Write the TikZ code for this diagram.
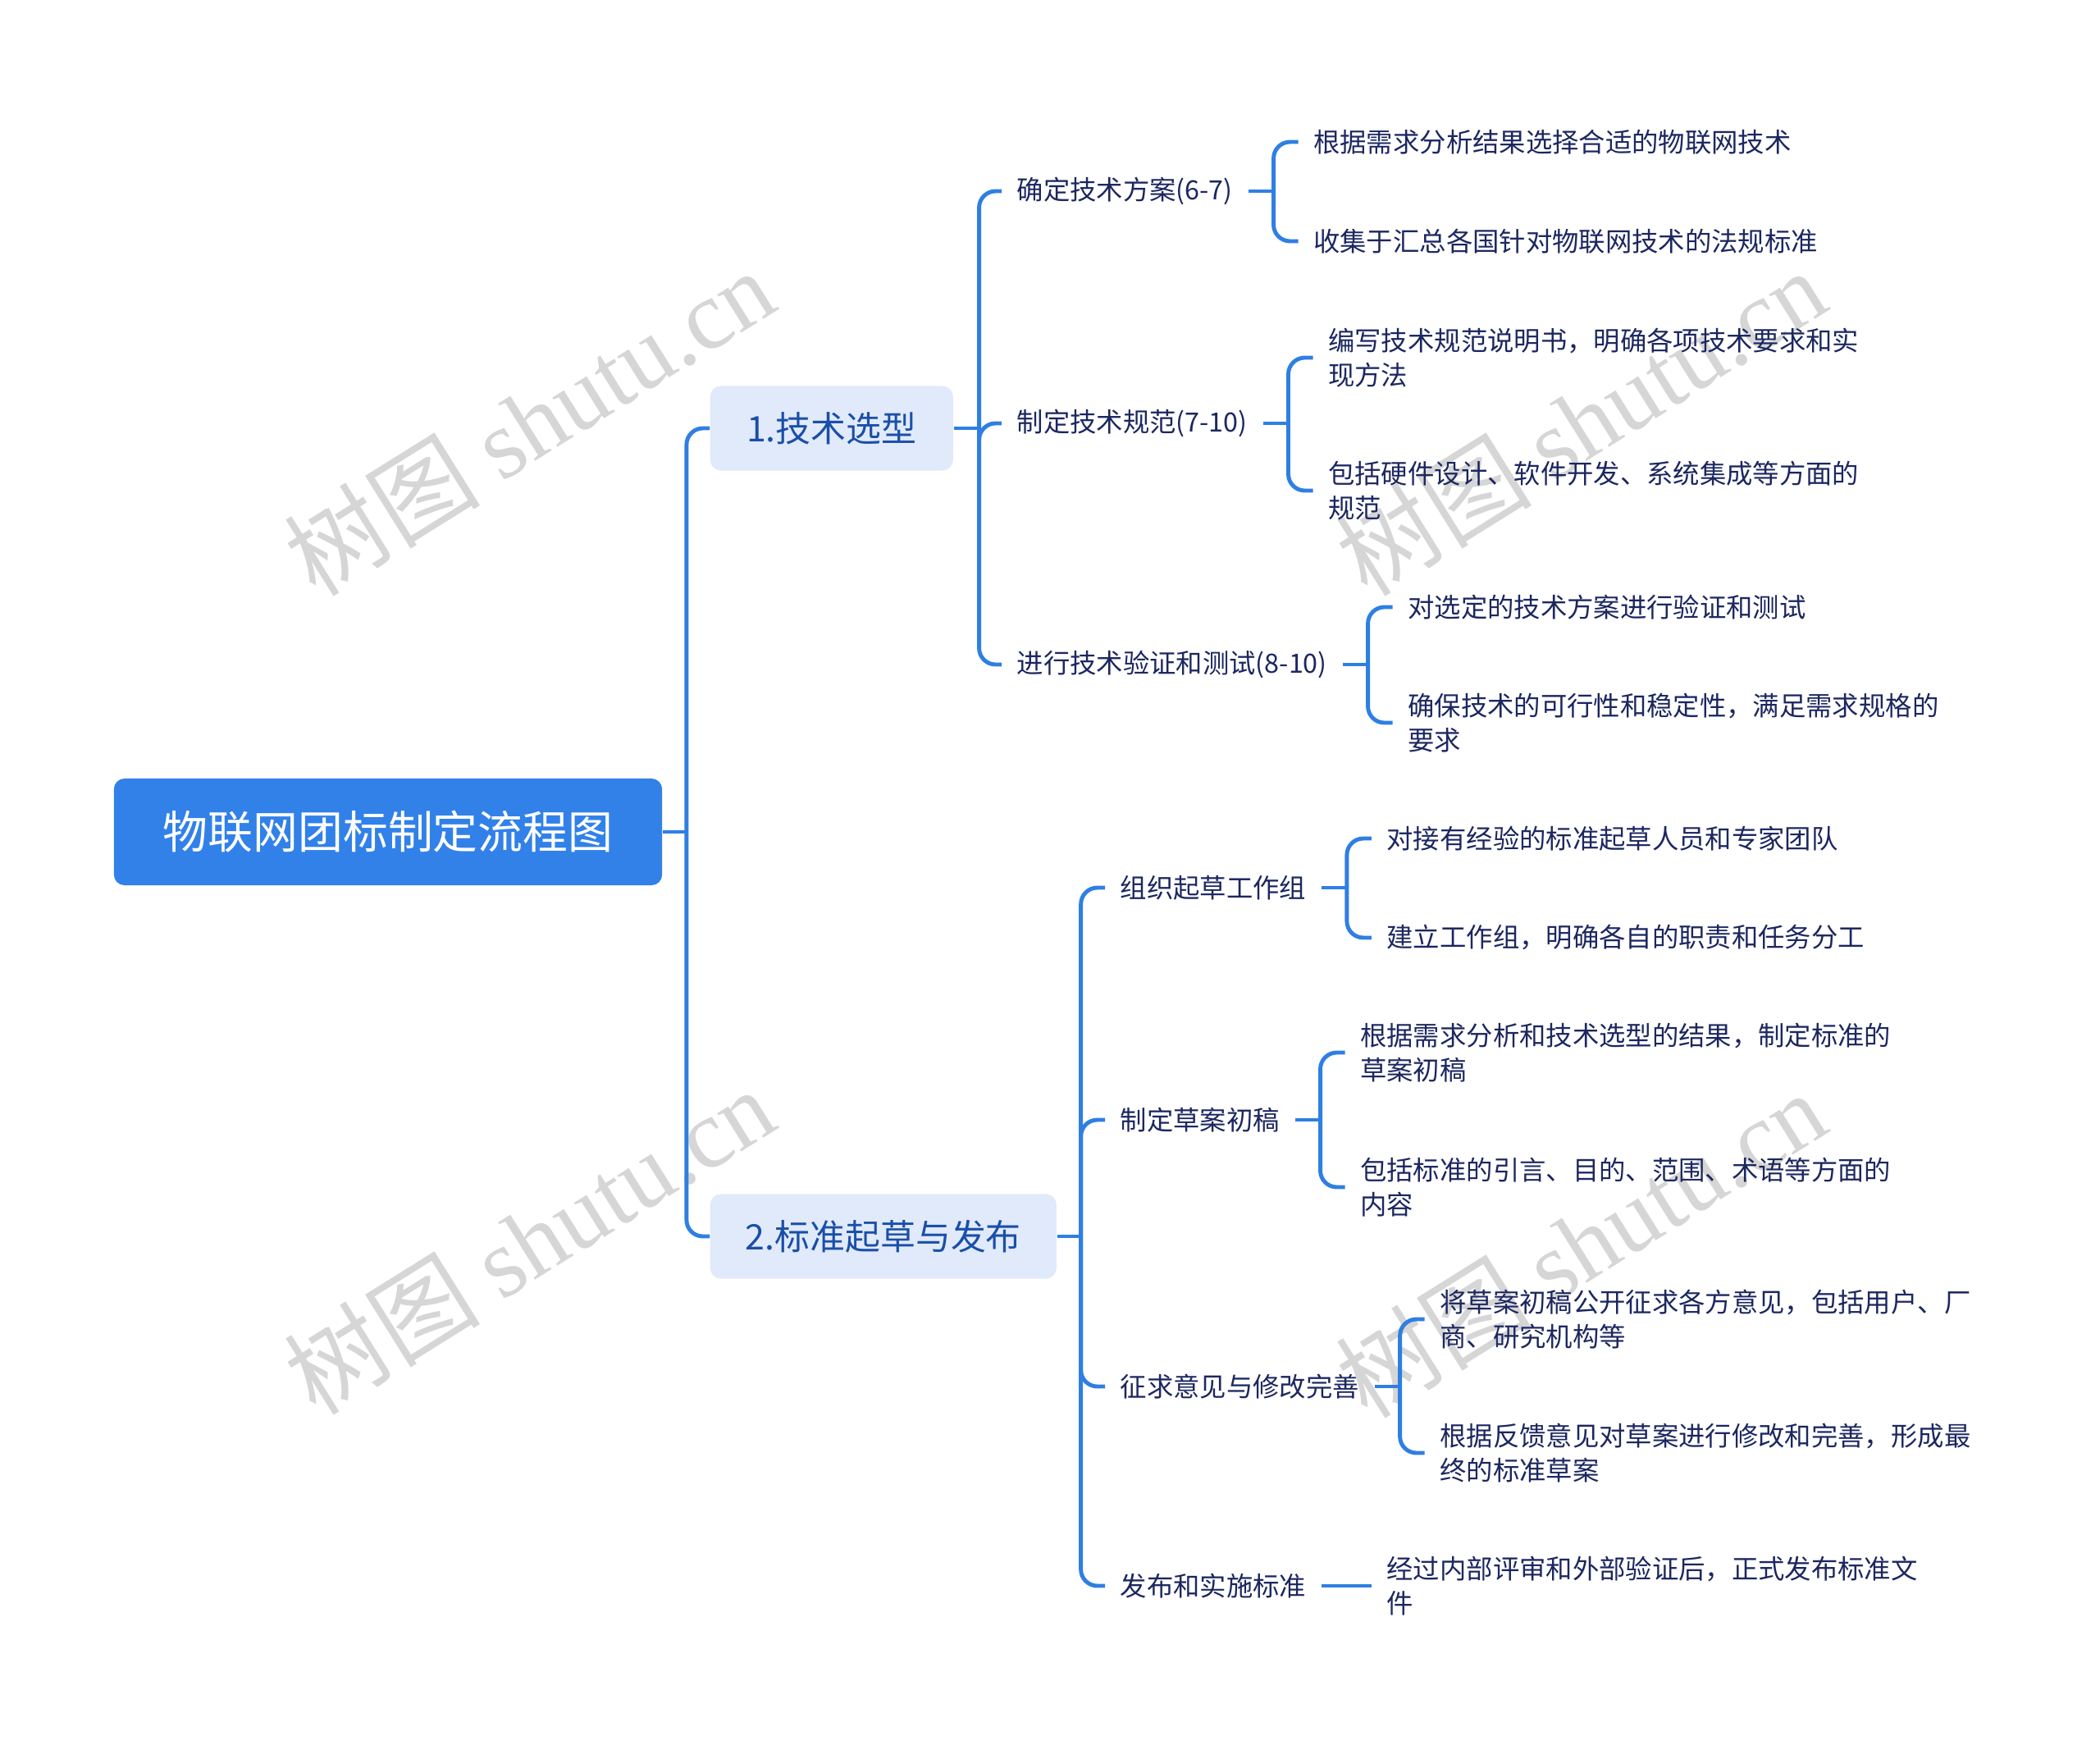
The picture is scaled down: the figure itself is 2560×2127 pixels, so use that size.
\documentclass[tikz,border=0pt]{standalone}
\usepackage{fontspec}
\setmainfont{Noto Sans CJK SC}
\newfontfamily\wmfont{Liberation Serif}
\usetikzlibrary{calc}
\definecolor{lineblue}{HTML}{2F7FE3}
\definecolor{rootblue}{HTML}{3181E9}
\definecolor{lightbox}{HTML}{E1EAFB}
\definecolor{navy}{HTML}{1C2760}
\definecolor{lonetext}{HTML}{1A4FA8}
\definecolor{wmgray}{HTML}{D6D6D6}
\begin{document}
\begin{tikzpicture}[x=0.01cm,y=-0.01cm,
  conn/.style={draw=lineblue, line width=1.4pt, rounded corners=0.2cm},
  rootbox/.style={fill=rootblue, rounded corners=0.13cm, text=white,
    font=\fontsize{15.6}{18}\selectfont, minimum width=6.68cm, minimum height=1.3cm, inner sep=0},
  lonebox/.style={fill=lightbox, rounded corners=0.13cm, text=lonetext,
    font=\fontsize{12.2}{14}\selectfont, minimum height=1.03cm, inner sep=0, anchor=west},
  leaf/.style={text=navy, font=\fontsize{9.2}{11.8}\selectfont, align=left,
    inner xsep=0.18cm, inner ysep=0, anchor=west},
  wmark/.style={text=wmgray, font=\fontsize{34}{40}\selectfont, rotate=32, inner sep=0}
]
\path[use as bounding box, fill=white] (0,0) rectangle (2560,2127);

% watermarks
\node[wmark] (w1) at (645,514) {树图 {\wmfont shutu.cn}};
\node[wmark] (w2) at (1927,514) {树图 {\wmfont shutu.cn}};
\node[wmark] (w3) at (645,1512) {树图 {\wmfont shutu.cn}};
\node[wmark] (w4) at (1927,1516) {树图 {\wmfont shutu.cn}};

% root
\node[rootbox] (root) at (473,1014) {物联网团标制定流程图};

% level 1
\node[lonebox, minimum width=2.96cm] (A) at (865,522) {1.技术选型};
\node[lonebox, minimum width=4.22cm] (B) at (865,1507) {2.标准起草与发布};

\coordinate (rt) at ($(root.east)+(29,0)$);
\draw[conn] (root.east) -- (rt);
\draw[conn] (rt) |- (A.west);
\draw[conn] (rt) |- (B.west);

% level 2 under A
\node[leaf] (a1) at (1221,233) {确定技术方案(6-7)};
\node[leaf] (a2) at (1221,516) {制定技术规范(7-10)};
\node[leaf] (a3) at (1221,810) {进行技术验证和测试(8-10)};
\coordinate (at) at ($(A.east)+(31,0)$);
\draw[conn] (A.east) -- (at);
\draw[conn] (at) |- (a1.west);
\draw[conn] (at) |- (a2.west);
\draw[conn] (at) |- (a3.west);

% level 2 under B
\node[leaf] (b1) at (1347,1082) {组织起草工作组};
\node[leaf] (b2) at (1347,1365) {制定草案初稿};
\node[leaf] (b3) at (1347,1690) {征求意见与修改完善};
\node[leaf] (b4) at (1347,1933) {发布和实施标准};
\coordinate (bt) at ($(B.east)+(29,0)$);
\draw[conn] (B.east) -- (bt);
\draw[conn] (bt) |- (b1.west);
\draw[conn] (bt) |- (b2.west);
\draw[conn] (bt) |- (b3.west);
\draw[conn] (bt) |- (b4.west);

% children of a1
\coordinate (a1b) at ($(a1.east)+(31,0)$);
\coordinate (a1c) at ($(a1.east)+(61,0)$);
\node[leaf] (a1x) at (a1c |- 0,173) {根据需求分析结果选择合适的物联网技术};
\node[leaf] (a1y) at (a1c |- 0,294) {收集于汇总各国针对物联网技术的法规标准};
\draw[conn] (a1.east) -- (a1b);
\draw[conn] (a1b) |- (a1x.west);
\draw[conn] (a1b) |- (a1y.west);

% children of a2
\coordinate (a2b) at ($(a2.east)+(31,0)$);
\coordinate (a2c) at ($(a2.east)+(61,0)$);
\node[leaf] (a2x) at (a2c |- 0,436) {编写技术规范说明书，明确各项技术要求和实\\现方法};
\node[leaf] (a2y) at (a2c |- 0,598) {包括硬件设计、软件开发、系统集成等方面的\\规范};
\draw[conn] (a2.east) -- (a2b);
\draw[conn] (a2b) |- (a2x.west);
\draw[conn] (a2b) |- (a2y.west);

% children of a3
\coordinate (a3b) at ($(a3.east)+(31,0)$);
\coordinate (a3c) at ($(a3.east)+(61,0)$);
\node[leaf] (a3x) at (a3c |- 0,740) {对选定的技术方案进行验证和测试};
\node[leaf] (a3y) at (a3c |- 0,881) {确保技术的可行性和稳定性，满足需求规格的\\要求};
\draw[conn] (a3.east) -- (a3b);
\draw[conn] (a3b) |- (a3x.west);
\draw[conn] (a3b) |- (a3y.west);

% children of b1
\coordinate (b1b) at ($(b1.east)+(31,0)$);
\coordinate (b1c) at ($(b1.east)+(61,0)$);
\node[leaf] (b1x) at (b1c |- 0,1022) {对接有经验的标准起草人员和专家团队};
\node[leaf] (b1y) at (b1c |- 0,1143) {建立工作组，明确各自的职责和任务分工};
\draw[conn] (b1.east) -- (b1b);
\draw[conn] (b1b) |- (b1x.west);
\draw[conn] (b1b) |- (b1y.west);

% children of b2
\coordinate (b2b) at ($(b2.east)+(31,0)$);
\coordinate (b2c) at ($(b2.east)+(61,0)$);
\node[leaf] (b2x) at (b2c |- 0,1283) {根据需求分析和技术选型的结果，制定标准的\\草案初稿};
\node[leaf] (b2y) at (b2c |- 0,1447) {包括标准的引言、目的、范围、术语等方面的\\内容};
\draw[conn] (b2.east) -- (b2b);
\draw[conn] (b2b) |- (b2x.west);
\draw[conn] (b2b) |- (b2y.west);

% children of b3
\coordinate (b3b) at ($(b3.east)+(31,0)$);
\coordinate (b3c) at ($(b3.east)+(61,0)$);
\node[leaf] (b3x) at (b3c |- 0,1608) {将草案初稿公开征求各方意见，包括用户、厂\\商、研究机构等};
\node[leaf] (b3y) at (b3c |- 0,1771) {根据反馈意见对草案进行修改和完善，形成最\\终的标准草案};
\draw[conn] (b3.east) -- (b3b);
\draw[conn] (b3b) |- (b3x.west);
\draw[conn] (b3b) |- (b3y.west);

% child of b4
\coordinate (b4c) at ($(b4.east)+(61,0)$);
\node[leaf] (b4x) at (b4c |- 0,1933) {经过内部评审和外部验证后，正式发布标准文\\件};
\draw[conn] (b4.east) -- (b4x.west);
\end{tikzpicture}
\end{document}
